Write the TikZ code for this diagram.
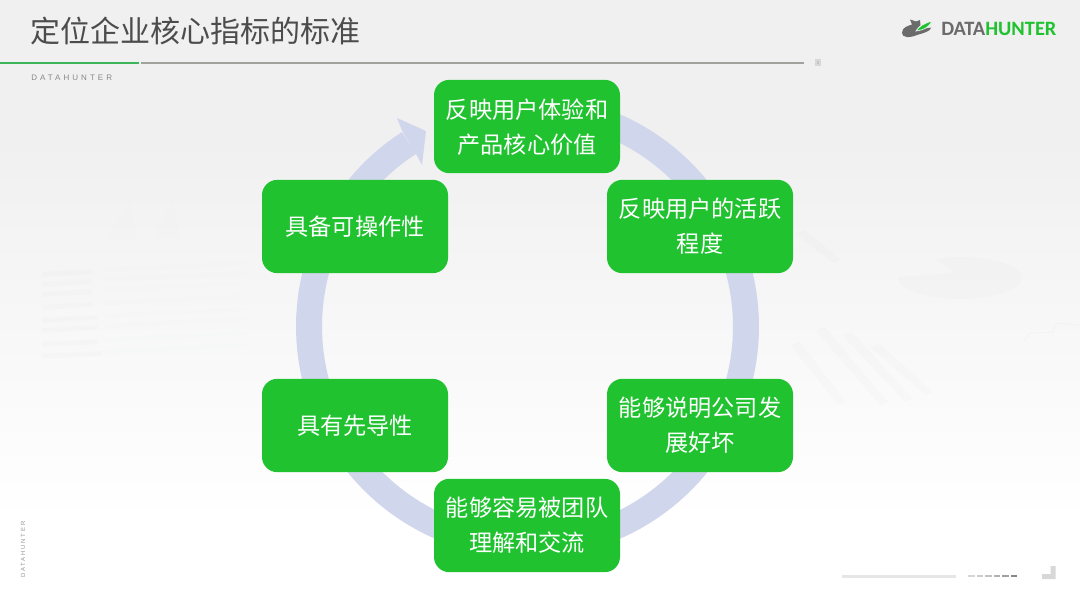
\documentclass[tikz,border=0pt]{standalone}
\usepackage{fontspec}
\setmainfont{Liberation Sans}
\newfontfamily\cjk{Noto Sans CJK SC}
\newfontfamily\logofont{Carlito}
\newfontfamily\smallfont[LetterSpace=38]{Liberation Sans}
\newfontfamily\tinyfont[LetterSpace=30]{Liberation Sans}
\definecolor{boxgreen}{RGB}{32,194,48}
\definecolor{ringblue}{RGB}{208,214,236}
\definecolor{titlegrey}{RGB}{76,76,76}
\definecolor{ghost}{RGB}{120,130,150}
\definecolor{bgtop}{RGB}{240,240,240}
\definecolor{rulegreen}{RGB}{60,181,90}
\definecolor{rulegrey}{RGB}{160,163,156}
\definecolor{marklight}{RGB}{216,216,216}
\definecolor{markdark}{RGB}{198,198,198}
\definecolor{subgrey}{RGB}{135,135,135}
\definecolor{sidegrey}{RGB}{150,150,150}
\definecolor{logogrey}{RGB}{107,107,107}
\definecolor{footline}{RGB}{230,230,230}
\tikzset{
  boxtext/.style={text=white,align=center,inner sep=0pt,font=\cjk\fontsize{17.4}{26.25}\selectfont},
  stepbox/.style={boxtext,fill=boxgreen,rounded corners=11.5pt,minimum width=139.5pt,minimum height=70pt},
  ringline/.style={draw=ringblue,line width=19.5pt,line cap=butt},
  ghostfill/.style={fill=ghost,draw=none,opacity=0.018},
  ghostfaint/.style={fill=ghost,draw=none,opacity=0.008},
}
\begin{document}
\begin{tikzpicture}[x=0.75pt,y=-0.75pt]
\useasboundingbox (0,0) rectangle (1080,604);
% background gradient
\fill[white] (0,0) rectangle (1080,604);
\shade[top color=bgtop,bottom color=white] (0,140) rectangle (1080,520);
\fill[bgtop] (0,0) rectangle (1080,140.5);
% faint background chart: pie
\fill[ghostfill] plot[domain=114:-183,samples=70] ({960+62*cos(\x)},{278-21*sin(\x)}) -- (955,273) -- cycle;
% faint diagonal bars
\foreach \xa/\ya/\xb/\yb in {870/347/925/395,842/335/905/402,815/330/880/405,790/345/838/405,795/233/833/263}
  \fill[ghostfill] (\xa,\ya) -- ++(10,-3) -- (\xb+8,\yb-3) -- (\xb,\yb) -- cycle;
% faint chart line on the right
\draw[ghost,opacity=0.03,line width=0.8pt] (1023,342) -- (1030,333) -- (1053,332) -- (1055,323) -- (1080,325);
% faint text lines on the left
\foreach \yy/\w in {272/50,282/50,292/50,305/50,318/55,328/55,342/55,354/60}
  {\fill[ghostfill] (42,\yy) -- ++(\w,-3) -- ++(0,5) -- ++(-\w,3) -- cycle;
   \fill[ghostfaint] (105,\yy-4) -- ++(140,-7) -- ++(0,4) -- ++(-140,7) -- cycle;}
% faint shapes upper left
\fill[ghostfaint] (107,240) -- (130,198) -- (137,240) -- cycle;
\fill[ghostfaint] (153,238) -- (172,200) -- (180,238) -- cycle;
% ring with arrow
\draw[ringline] plot[domain=100:-237.2,samples=150] ({527.5+218.5*cos(\x)},{326.5-218.5*sin(\x)});
\fill[ringblue] (397,118) -- (402.5,131.5) -- (415,152) -- (422,165) -- (426,131) -- cycle;
% header
\node[anchor=west,inner sep=0pt,text=titlegrey,font=\cjk\fontsize{22.5}{26}\selectfont] (title) at (30,31) {定位企业核心指标的标准};
\fill[rulegreen] (0,61.5) rectangle (139,63.5);
\fill[rulegrey] (141,61.5) rectangle (804,63.5);
\fill[marklight] (814.5,59) rectangle (821,65.5);
\fill[markdark] (816.5,61) rectangle (819,63.5);
\node[anchor=west,inner sep=0pt,text=subgrey,font=\smallfont\fontsize{6}{7}\selectfont] (sub) at (31,77.5) {DATAHUNTER};
\node[anchor=west,rotate=90,inner sep=0pt,text=sidegrey,font=\tinyfont\fontsize{4.5}{6}\selectfont] (side) at (23,578) {DATAHUNTER};
% logo
\fill[logogrey] (902,33) .. controls (902,27) and (908,26) .. (912,24.5) -- (910,19.5) -- (916,21.5) -- (920,20) -- (920.5,25) -- (916,30) -- (931,27.5) .. controls (931,31) and (924,33) .. (917,35) .. controls (910,38) and (902,38) .. (902,33) -- cycle;
\fill[boxgreen,draw=bgtop,line width=0.5pt] (916,31) .. controls (919,26) and (925,23) .. (932,21) .. controls (930,26) and (925,30) .. (916,31) -- cycle;
\node[anchor=west,inner sep=0pt,font=\logofont\bfseries\fontsize{15.3}{18}\selectfont] (logo) at (941,28.5) {\textcolor{logogrey}{DATA}\textcolor{boxgreen}{HUNTER}};
% footer marks
\fill[footline] (842,575) rectangle (956,577.5);
\foreach \xx/\g in {968/16,976.5/20,985/24,993.5/30,1002/37,1010.5/47}
  \fill[black!\g!white] (\xx,575.2) rectangle ++(6.5,2.2);
\fill[marklight] (1042,574) -- (1050.5,574) -- (1050.5,566) -- (1055.5,566) -- (1055.5,579) -- (1042,579) -- cycle;
% boxes
\node[stepbox] (top) at (527,126.5) {};
\node[boxtext] (toptext) at (527,127.5) {反映用户体验和\\产品核心价值};
\node[stepbox] (ul) at (355,226.5) {具备可操作性};
\node[stepbox] (ur) at (700,226.5) {反映用户的活跃\\程度};
\node[stepbox] (ll) at (355,425.5) {具有先导性};
\node[stepbox] (lr) at (700,425.5) {能够说明公司发\\展好坏};
\node[stepbox] (bot) at (527,525.5) {能够容易被团队\\理解和交流};
\end{tikzpicture}
\end{document}
